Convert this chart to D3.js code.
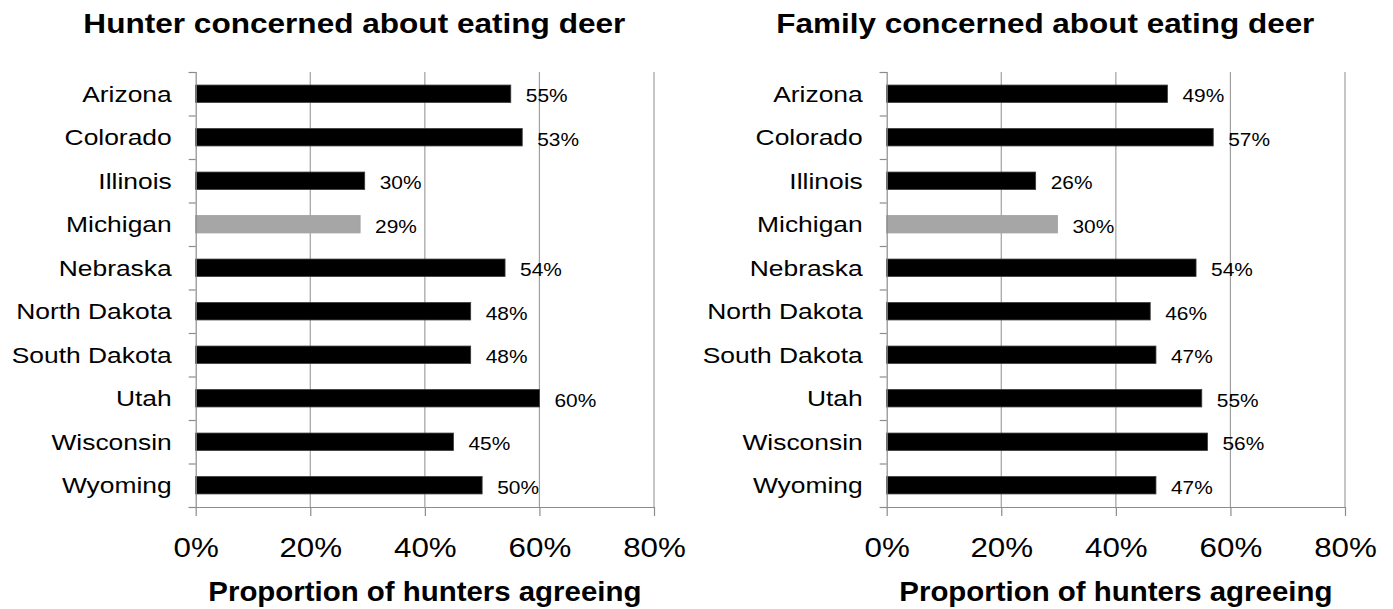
<!DOCTYPE html>
<html>
<head>
<meta charset="utf-8">
<script src="https://cdn.jsdelivr.net/npm/d3@7"></script>
<style>
  html, body { margin: 0; padding: 0; background: #fff; }
  svg { display: block; font-family: "Liberation Sans", Arial, sans-serif; }
</style>
</head>
<body>
<svg id="chart" width="1393" height="609"></svg>
<script>
// ---- data ----
const states = ["Arizona", "Colorado", "Illinois", "Michigan", "Nebraska",
                "North Dakota", "South Dakota", "Utah", "Wisconsin", "Wyoming"];
const hunterValues = [0.55, 0.57, 0.295, 0.287, 0.54, 0.48, 0.48, 0.60, 0.45, 0.50];
const hunterLabels = ["55%", "53%", "30%", "29%", "54%", "48%", "48%", "60%", "45%", "50%"];
const familyValues = [0.49, 0.57, 0.26, 0.298, 0.54, 0.46, 0.47, 0.55, 0.56, 0.47];
const familyLabels = ["49%", "57%", "26%", "30%", "54%", "46%", "47%", "55%", "56%", "47%"];
const highlightState = "Michigan";
const xTicks = [0, 0.2, 0.4, 0.6, 0.8];
const titles = ["Hunter concerned about eating deer", "Family concerned about eating deer"];
const xAxisTitle = "Proportion of hunters agreeing";

// ---- layout ----
const svg = d3.select("#chart");
const plotW = 458.3, plotH = 435, plotTop = 72;
const panels = [
  { left: 195.7, title: titles[0], values: hunterValues, labels: hunterLabels },
  { left: 886.7, title: titles[1], values: familyValues, labels: familyLabels }
];

function stretch(sel, k) {
  sel.each(function () {
    const w = this.getComputedTextLength();
    d3.select(this).attr("textLength", w * k).attr("lengthAdjust", "spacingAndGlyphs");
  });
}

const x = d3.scaleLinear().domain([0, 0.8]).range([0, plotW]);
const y = d3.scaleBand().domain(states).range([0, plotH]).paddingInner(0.6).paddingOuter(0.3);
const yRow = d3.scaleBand().domain(states).range([0, plotH]).padding(0);
const yEdge = d3.scaleLinear().domain([0, states.length]).range([0, plotH]);

panels.forEach(p => {
  const g = svg.append("g").attr("transform", `translate(${p.left},${plotTop})`);

  // gridlines
  g.append("g").selectAll("line").data(xTicks.slice(1)).join("line")
    .attr("x1", d => x(d)).attr("x2", d => x(d))
    .attr("y1", 0).attr("y2", plotH)
    .attr("stroke", "#a0a0a0").attr("stroke-width", 1.2);

  // bars
  g.append("g").selectAll("rect").data(states).join("rect")
    .attr("x", 0)
    .attr("y", d => y(d))
    .attr("width", (d, i) => x(p.values[i]))
    .attr("height", y.bandwidth())
    .attr("fill", d => d === highlightState ? "#a6a6a6" : "#000")
    .attr("stroke", d => d === highlightState ? "#a0a0a0" : "#3a3a3a")
    .attr("stroke-width", 0.8);

  // left axis (boundary ticks)
  const la = g.append("g").call(d3.axisLeft(yEdge)
      .tickValues(d3.range(states.length + 1)).tickSize(7).tickFormat(""));
  la.selectAll("path").attr("stroke", "#8c8c8c").attr("stroke-width", 1.2);
  la.selectAll("line").attr("stroke", "#8c8c8c").attr("stroke-width", 1.2);

  // category labels
  const cl = g.append("g").selectAll("text").data(states).join("text")
    .attr("x", -24)
    .attr("y", d => yRow(d) + yRow.bandwidth() / 2 + 8)
    .attr("text-anchor", "end")
    .attr("font-size", 22)
    .attr("fill", "#000")
    .text(d => d);
  stretch(cl, 1.2);

  // bottom axis
  const ba = g.append("g").attr("transform", `translate(0,${plotH})`)
    .call(d3.axisBottom(x).tickValues(xTicks).tickSize(9).tickSizeOuter(0)
      .tickFormat(d3.format(".0%")));
  ba.selectAll("path").attr("stroke", "#8c8c8c").attr("stroke-width", 1.2);
  ba.selectAll("line").attr("stroke", "#8c8c8c").attr("stroke-width", 1.2);
  const bt = ba.selectAll("text")
    .attr("y", 50).attr("dy", 0)
    .attr("font-size", 27).attr("fill", "#000")
    .attr("font-family", "Liberation Sans, Arial, sans-serif");
  stretch(bt, 1.16);

  // data labels
  const dl = g.append("g").selectAll("text").data(states).join("text")
    .attr("x", (d, i) => x(p.values[i]) + 15)
    .attr("y", d => yRow(d) + yRow.bandwidth() / 2 + 8.5)
    .attr("font-size", 19)
    .attr("fill", "#000")
    .text((d, i) => p.labels[i]);
  stretch(dl, 1.1);

  // chart title
  g.append("text")
    .attr("x", plotW / 2 - 70.5)
    .attr("y", 33 - plotTop)
    .attr("text-anchor", "middle")
    .attr("font-size", 28).attr("font-weight", "bold")
    .attr("fill", "#000")
    .attr("textLength", p.title.startsWith("Hunter") ? 542 : 538)
    .attr("lengthAdjust", "spacingAndGlyphs")
    .text(p.title);

  // axis title
  g.append("text")
    .attr("x", plotW / 2)
    .attr("y", 601 - plotTop)
    .attr("text-anchor", "middle")
    .attr("font-size", 28).attr("font-weight", "bold")
    .attr("fill", "#000")
    .attr("textLength", 433)
    .attr("lengthAdjust", "spacingAndGlyphs")
    .text(xAxisTitle);
});
</script>
</body>
</html>
